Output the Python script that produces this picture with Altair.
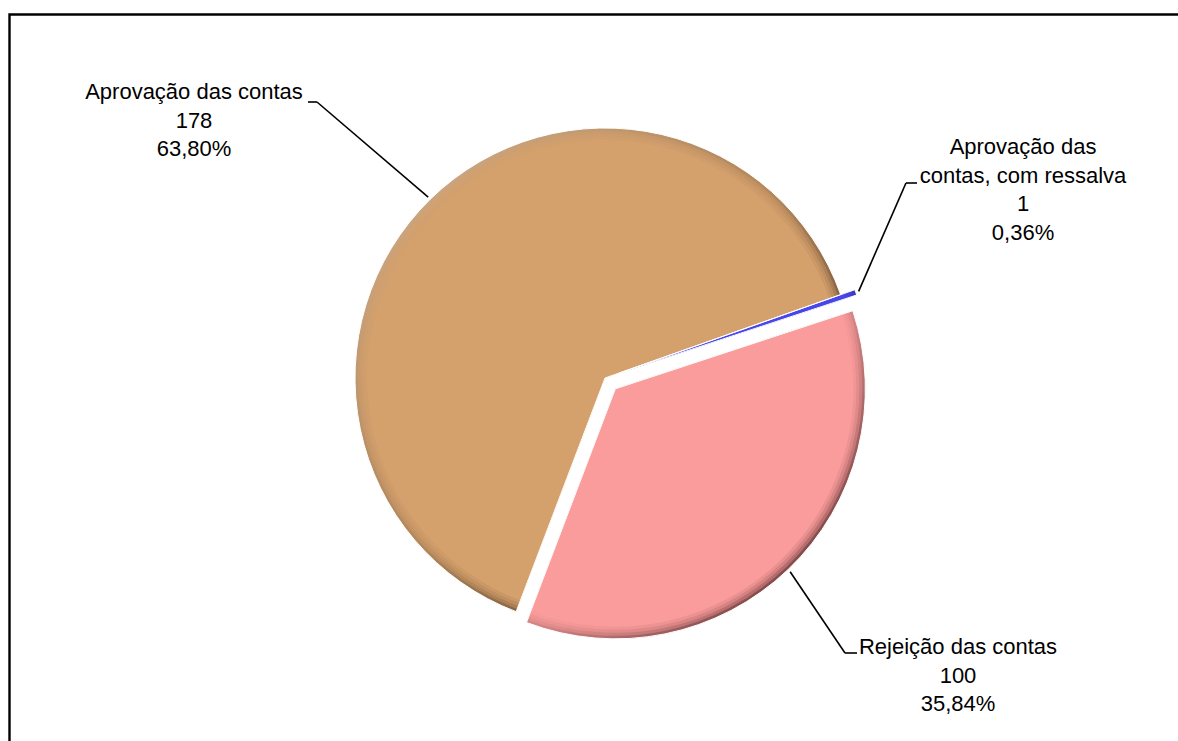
import math
import altair as alt
import pandas as pd

# ---- data ----
categories = ["Aprovação das contas, com ressalva", "Rejeição das contas", "Aprovação das contas"]
counts = [1, 100, 178]
percent_labels = ["0,36%", "35,84%", "63,80%"]
label_lines = ["Aprovação das\ncontas, com ressalva", "Rejeição das contas", "Aprovação das contas"]

# ---- styles / layout ----
colors = ["#4646EA", "#FB9C9C", "#D4A06C"]
explode = [15, 15, 0]
elbow_x = [906, 845, 317]
elbow_y = [183, 653, 102]
tick_x = [917, 857, 308]
text_x = [1023, 958, 194]
text_y = [154, 654, 99]

W, H = 1178, 741
CX, CY, R = 605, 378, 250
OFF = math.radians(70.5)
FONT = "Liberation Sans"

df = pd.DataFrame({
    "category": categories,
    "count": counts,
    "pct": percent_labels,
    "order": list(range(len(categories))),
    "label": [f"{l}\n{c}\n{p}" for l, c, p in zip(label_lines, counts, percent_labels)],
    "ex": explode,
    "elx": elbow_x, "ely": elbow_y, "tkx": tick_x,
    "tx": text_x, "ty": text_y,
})

base = (
    alt.Chart(df)
    .transform_window(cum="sum(count)", sort=[alt.SortField("order")], frame=[None, 0])
    .transform_joinaggregate(total="sum(count)")
    .transform_calculate(
        start="(datum.cum - datum.count) / datum.total",
        end="datum.cum / datum.total",
    )
    .transform_calculate(mid=f"{OFF} + PI * (datum.start + datum.end)")
    .transform_calculate(
        px=f"{CX} + datum.ex * sin(datum.mid)",
        py=f"{CY} - datum.ex * cos(datum.mid)",
    )
    .transform_calculate(
        sx=f"datum.px + {R + 3} * sin(datum.mid)",
        sy=f"datum.py - {R + 3} * cos(datum.mid)",
    )
)

theta = alt.Theta("start:Q", scale=alt.Scale(domain=[0, 1], range=[OFF, OFF + 2 * math.pi]))
pos = dict(
    theta=theta,
    theta2="end:Q",
    x=alt.X("px:Q", scale=None, axis=None),
    y=alt.Y("py:Q", scale=None, axis=None),
)
col = alt.Color("category:N", scale=alt.Scale(domain=categories, range=colors), legend=None)

layers = []
# base fill
layers.append(base.mark_arc(outerRadius=R).encode(color=col, **pos))
# directional rim shading overlay
shade = alt.Gradient(
    gradient="linear",
    stops=[
        alt.GradientStop(color="rgba(255,255,255,0.30)", offset=0),
        alt.GradientStop(color="rgba(0,0,0,0.15)", offset=0.5),
        alt.GradientStop(color="rgba(40,0,0,0.80)", offset=1),
    ],
    x1=0, y1=0, x2=1, y2=1,
)
layers.append(base.mark_arc(outerRadius=R, fill=shade).encode(**pos))
# soft transition back to base colour
for r_, op in [(R - 3, 0.4), (R - 6, 0.45), (R - 9, 0.55)]:
    layers.append(base.mark_arc(outerRadius=r_, opacity=op).encode(color=col, **pos))
layers.append(base.mark_arc(outerRadius=R - 12).encode(color=col, **pos))
# white separators
layers.append(
    base.mark_arc(outerRadius=R, fillOpacity=0, stroke="white", strokeWidth=1).encode(**pos)
)

# leader lines
layers.append(
    base.mark_rule(color="black", strokeWidth=1.6).encode(
        x=alt.X("sx:Q", scale=None), y=alt.Y("sy:Q", scale=None),
        x2="elx:Q", y2="ely:Q",
    )
)
layers.append(
    base.mark_rule(color="black", strokeWidth=1.6).encode(
        x=alt.X("elx:Q", scale=None), y=alt.Y("ely:Q", scale=None),
        x2="tkx:Q", y2="ely:Q",
    )
)
# labels
layers.append(
    base.mark_text(
        font=FONT, fontSize=22, lineBreak="\n", lineHeight=28.5,
        align="center", baseline="alphabetic", color="black",
    ).encode(
        x=alt.X("tx:Q", scale=None), y=alt.Y("ty:Q", scale=None), text="label:N",
    )
)

# frame
frame = alt.Chart(pd.DataFrame({"a": [0]})).mark_rect(
    fill=None, stroke="black", strokeWidth=2.4
).encode(x=alt.value(9.5), x2=alt.value(1300), y=alt.value(14.5), y2=alt.value(900))

chart = (
    alt.layer(frame, *layers)
    .properties(width=W, height=H, padding=0, autosize=alt.AutoSizeParams(type="none"))
    .configure_view(stroke=None)
)

chart.save("out.html", embed_options={"renderer": "svg", "actions": False})
